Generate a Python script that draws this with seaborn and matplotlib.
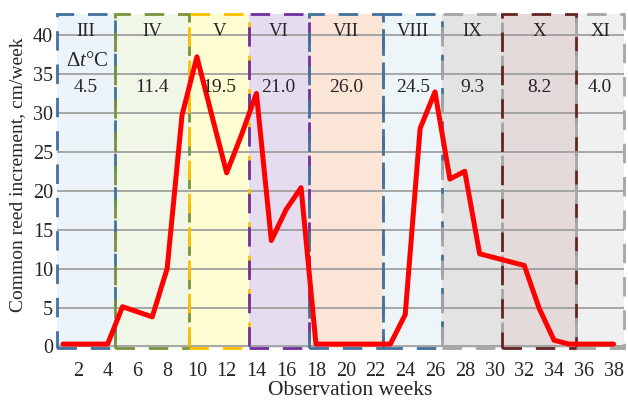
import numpy as np
import pandas as pd
import seaborn as sns
import matplotlib.pyplot as plt
from matplotlib.patches import Rectangle

# weekly increment of common reed, cm/week
weeks = list(range(1, 39))
increment = [0.3, 0.3, 0.3, 0.3, 5.1, 4.45, 3.8, 10.0, 29.7, 37.2,
             29.7, 22.3, 27.2, 32.5, 13.6, 17.6, 20.4, 0.3, 0.3, 0.3,
             0.3, 0.3, 0.3, 4.1, 28.0, 32.7, 21.5, 22.5, 11.9, 11.4,
             10.9, 10.4, 4.9, 0.8, 0.3, 0.3, 0.3, 0.3]

# months shown as coloured bands
months = ["III", "IV", "V", "VI", "VII", "VIII", "IX", "X", "XI"]
month_start = [0.6, 4.5, 9.5, 13.5, 17.5, 22.5, 26.5, 30.5, 35.5]
month_end = [4.5, 9.5, 13.5, 17.5, 22.5, 26.5, 30.5, 35.5, 38.7]
delta_t = ["4.5", "11.4", "19.5", "21.0", "26.0", "24.5", "9.3", "8.2", "4.0"]
fills = ["#ECF4F9", "#F0F7E7", "#FFFDD2", "#E6DCEF", "#FBE5D6",
         "#EDF5F9", "#E3E3E3", "#E4DADA", "#F0F0F0"]
edges = ["#41719C", "#77933C", "#FFC000", "#7030A0", "#41719C",
         "#41719C", "#A5A5A5", "#632523", "#A5A5A5"]

df = pd.DataFrame({"week": weeks, "increment": increment})

sns.set_style("white")
plt.rcParams["font.family"] = ["Liberation Serif", "DejaVu Serif"]
plt.rcParams["mathtext.fontset"] = "custom"
plt.rcParams["mathtext.it"] = "Liberation Serif:italic"
plt.rcParams["mathtext.rm"] = "Liberation Serif"

fig = plt.figure(figsize=(6.28, 4.01), dpi=100)
ax = fig.add_axes([0.0908, 0.1322, 0.9028, 0.8328])

y_lo, y_hi = -0.2, 42.7
ax.set_xlim(0.6, 38.7)
ax.set_ylim(y_lo, y_hi)

# month bands: fill below grid, dashed border above
for i in range(len(months)):
    x0, x1 = month_start[i], month_end[i]
    ax.add_patch(Rectangle((x0, y_lo), x1 - x0, y_hi - y_lo,
                           facecolor=fills[i], edgecolor="none", zorder=0.2))
    ax.add_patch(Rectangle((x0, y_lo), x1 - x0, y_hi - y_lo,
                           facecolor="none", edgecolor=edges[i], lw=2.0,
                           linestyle=(0, (7, 5)), zorder=2, clip_on=False))
    xc = (x0 + x1) / 2
    ax.text(xc, 40.4, months[i], ha="center", va="center", fontsize=13.5, zorder=4)
    ax.text(xc, 33.3, delta_t[i], ha="center", va="center", fontsize=14, zorder=4)

ax.text((month_start[0] + month_end[0]) / 2 + 0.1, 36.6, r"$\Delta t$°C",
        ha="center", va="center", fontsize=15, zorder=4)

ax.set_axisbelow("line")
ax.yaxis.grid(True, color="#A0A0A0", lw=1.3)
ax.xaxis.grid(False)

sns.lineplot(data=df, x="week", y="increment", ax=ax, color="#FF0000",
             lw=3.6, zorder=3, legend=False)

ax.set_xticks(range(2, 39, 2))
ax.set_xticks(range(1, 39, 2), minor=True)
ax.set_yticks(range(0, 41, 5))
ax.tick_params(axis="x", which="major", length=0, pad=10, labelsize=14.5)
ax.tick_params(axis="x", which="minor", length=4, color="#A6A6A6", width=1)
ax.tick_params(axis="y", length=0, pad=3, labelsize=14.5)

for s in ax.spines.values():
    s.set_visible(False)

ax.set_xlabel("Observation weeks", fontsize=15.5)
ax.set_ylabel("Common reed increment, cm/week", fontsize=14)
ax.xaxis.set_label_coords(0.517, -0.098)
ax.yaxis.set_label_coords(-0.054, 0.518)

fig.savefig("out.png", dpi=100)
